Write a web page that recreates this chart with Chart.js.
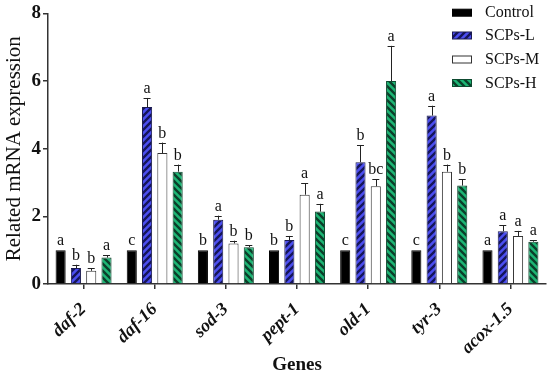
<!DOCTYPE html>
<html>
<head>
<meta charset="utf-8">
<script src="https://cdn.jsdelivr.net/npm/chart.js@4"></script>
<style>
html,body{margin:0;padding:0;background:#fff;}
#wrap{width:551px;height:373px;position:relative;}
</style>
</head>
<body>
<div id="wrap"><canvas id="c" width="551" height="373"></canvas></div>
<script>
const genes = ['daf-2','daf-16','sod-3','pept-1','old-1','tyr-3','acox-1.5'];
const seriesNames = ['Control','SCPs-L','SCPs-M','SCPs-H'];
const controlVals = [1,1,1,1,1,1,1];
const lowVals  = [0.47,5.23,1.90,1.30,3.60,4.98,1.56];
const midVals  = [0.39,3.87,1.20,2.64,2.89,3.32,1.42];
const highVals = [0.78,3.32,1.09,2.14,6.00,2.91,1.25];
const controlErr = [0,0,0,0,0,0,0];
const lowErr  = [0.10,0.27,0.12,0.12,0.51,0.29,0.18];
const midErr  = [0.07,0.31,0.08,0.34,0.21,0.21,0.15];
const highErr = [0.07,0.21,0.06,0.23,1.04,0.18,0.05];
const controlSig = ['a','c','b','b','c','c','a'];
const lowSig  = ['b','a','a','b','b','a','a'];
const midSig  = ['b','b','b','a','bc','b','a'];
const highSig = ['a','b','b','a','a','b','a'];
const yTicks = [0,2,4,6,8];

const SERIF = '"Liberation Serif","Times New Roman",serif';

function stripePattern(bg, fg, dir){
  const s = 7;
  const pc = document.createElement('canvas');
  pc.width = s; pc.height = s;
  const g = pc.getContext('2d');
  g.fillStyle = bg; g.fillRect(0,0,s,s);
  g.strokeStyle = fg; g.lineWidth = 2.4; g.lineCap = 'square';
  g.beginPath();
  if (dir === '/') {
    g.moveTo(-2,2); g.lineTo(2,-2);
    g.moveTo(0,s); g.lineTo(s,0);
    g.moveTo(s-2,s+2); g.lineTo(s+2,s-2);
  } else {
    g.moveTo(-2,s-2); g.lineTo(2,s+2);
    g.moveTo(0,0); g.lineTo(s,s);
    g.moveTo(s-2,-2); g.lineTo(s+2,2);
  }
  g.stroke();
  return document.getElementById('c').getContext('2d').createPattern(pc,'repeat');
}

const bluePat = stripePattern('#4b4ef0','#15155a','/');
const greenPat = stripePattern('#1db574','#0b3f2a','\\');

const fills = ['#000000', bluePat, '#ffffff', greenPat];
const borders = ['#000000', '#1a1a50', '#333333', '#0e4a30'];
const values = [controlVals, lowVals, midVals, highVals];
const errs = [controlErr, lowErr, midErr, highErr];
const sigs = [controlSig, lowSig, midSig, highSig];

const errorPlugin = {
  id: 'errsig',
  afterDatasetsDraw(chart){
    const ctx = chart.ctx;
    const ys = chart.scales.y;
    ctx.save();
    chart.data.datasets.forEach((ds, di) => {
      const meta = chart.getDatasetMeta(di);
      meta.data.forEach((el, i) => {
        const v = ds.data[i];
        const e = errs[di][i];
        const yv = ys.getPixelForValue(v);
        const ye = ys.getPixelForValue(v + e);
        if (e > 0) {
          ctx.strokeStyle = '#222';
          ctx.lineWidth = 1;
          ctx.beginPath();
          ctx.moveTo(Math.round(el.x)+0.5, yv);
          ctx.lineTo(Math.round(el.x)+0.5, ye);
          ctx.moveTo(el.x - 3.5, Math.round(ye)+0.5);
          ctx.lineTo(el.x + 3.5, Math.round(ye)+0.5);
          ctx.stroke();
        }
        ctx.fillStyle = '#111';
        ctx.font = '16px ' + SERIF;
        ctx.textAlign = 'center';
        ctx.textBaseline = 'alphabetic';
        ctx.fillText(sigs[di][i], el.x, ye - 5);
      });
    });
    ctx.restore();
  }
};

const legendPlugin = {
  id: 'customLegend',
  afterDraw(chart){
    const ctx = chart.ctx;
    ctx.save();
    const x0 = 452, rows = [12.7, 35.5, 59.5, 83];
    chart.data.datasets.forEach((ds, i) => {
      const y = rows[i];
      ctx.fillStyle = ds.backgroundColor;
      ctx.fillRect(x0, y - 3.5, 20, 7);
      ctx.strokeStyle = ds.borderColor;
      ctx.lineWidth = 1;
      ctx.strokeRect(x0 + 0.5, y - 3.5, 19, 7);
      ctx.fillStyle = '#111';
      ctx.font = '16px ' + SERIF;
      ctx.textAlign = 'left';
      ctx.textBaseline = 'middle';
      ctx.fillText(ds.label, 485, y + 0.5);
    });
    ctx.restore();
  }
};

new Chart(document.getElementById('c'), {
  type: 'bar',
  data: {
    labels: genes,
    datasets: seriesNames.map((n, i) => ({
      label: n,
      data: values[i],
      backgroundColor: fills[i],
      borderColor: borders[i],
      borderWidth: 1,
      categoryPercentage: 0.86,
      barPercentage: 0.66
    }))
  },
  options: {
    responsive: false,
    animation: false,
    devicePixelRatio: 1,
    layout: { padding: { top: 8, right: 5, left: 0, bottom: 0 } },
    plugins: { legend: { display: false }, tooltip: { enabled: false } },
    scales: {
      x: {
        afterFit(s){ s.height = 89; },
        grid: { display: true, drawOnChartArea: false, drawTicks: true, tickLength: 5, offset: false, color: '#333', lineWidth: 1.5 },
        border: { color: '#333', width: 1.5 },
        ticks: {
          autoSkip: false, minRotation: 44, maxRotation: 44, padding: 10,
          color: '#111',
          font: { family: SERIF, size: 18, weight: 'bold', style: 'italic' }
        },
        title: {
          display: true, text: 'Genes', color: '#111',
          font: { family: SERIF, size: 19, weight: 'bold' },
          padding: { top: 0, bottom: -3 }
        }
      },
      y: {
        min: 0, max: 8,
        afterFit(s){ s.width = 48; },
        afterBuildTicks(s){ s.ticks = yTicks.map(v => ({ value: v })); },
        grid: { display: true, drawOnChartArea: false, drawTicks: true, tickLength: 5, color: '#333', lineWidth: 1.5 },
        border: { color: '#333', width: 1.5 },
        ticks: {
          padding: 2, color: '#111',
          font: { family: SERIF, size: 19, weight: 'bold' }
        },
        title: {
          display: true, text: 'Related mRNA expression', color: '#111',
          font: { family: SERIF, size: 21 },
          padding: { top: 2, bottom: 0 }
        }
      }
    }
  },
  plugins: [errorPlugin, legendPlugin]
});
</script>
</body>
</html>
